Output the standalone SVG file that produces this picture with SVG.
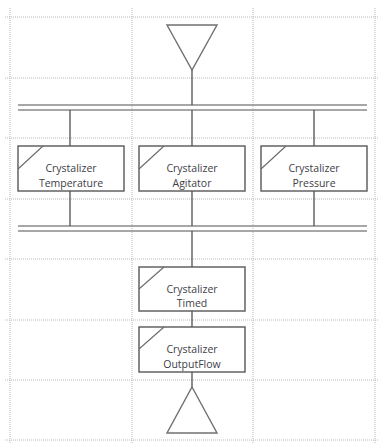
<svg xmlns="http://www.w3.org/2000/svg" width="378" height="444" viewBox="0 0 378 444">
<style>
.grid{stroke:#b8b8b8;stroke-width:1;stroke-dasharray:1,1;fill:none}
.bus{stroke:#8a8a8a;stroke-width:1.6;fill:none}
.conn{stroke:#505050;stroke-width:1.3;fill:none}
.box{fill:#fff;stroke:#585858;stroke-width:1.4}
.diag{stroke:#6a6a6a;stroke-width:1.1;fill:none}
.tri{fill:#fff;stroke:#707070;stroke-width:1.4}
.lbl{font-family:"Open Sans","Liberation Sans",sans-serif;font-size:10.5px;fill:#404048;text-anchor:middle}
</style>
<rect width="378" height="444" fill="#fff"/>
<g id="grid">
<path class="grid" d="M10,8V444M132,8V444M253,8V444M375,8V444"/>
<path class="grid" d="M5,17H378M5,78H378M5,138H378M5,199H378M5,259H378M5,320H378M5,380H378M5,440H378"/>
</g>
<g id="connectors">
<path class="bus" d="M18,105H367M18,110H367M18,226H367M18,231H367"/>
<path class="conn" d="M192,70V105M70,110V146M192,110V146M314,110V146M70,191V226M192,191V226M314,191V226M192,231V267M192,311V327M192,372V387"/>
</g>
<g id="start">
<polygon class="tri" points="167,25 217,25 192,70"/>
</g>
<g id="temperature">
<rect class="box" x="18" y="146" width="106" height="45"/>
<path class="diag" d="M18,169L43,146"/>
<text class="lbl" x="71" y="172">Crystalizer</text>
<text class="lbl" x="71" y="187">Temperature</text>
</g>
<g id="agitator">
<rect class="box" x="139" y="146" width="106" height="45"/>
<path class="diag" d="M139,169L164,146"/>
<text class="lbl" x="192" y="172">Crystalizer</text>
<text class="lbl" x="192" y="187">Agitator</text>
</g>
<g id="pressure">
<rect class="box" x="261" y="146" width="106" height="45"/>
<path class="diag" d="M261,169L286,146"/>
<text class="lbl" x="314" y="172">Crystalizer</text>
<text class="lbl" x="314" y="187">Pressure</text>
</g>
<g id="timed">
<rect class="box" x="139" y="267" width="106" height="44"/>
<path class="diag" d="M139,289L164,267"/>
<text class="lbl" x="192" y="293">Crystalizer</text>
<text class="lbl" x="192" y="307">Timed</text>
</g>
<g id="outputflow">
<rect class="box" x="139" y="327" width="106" height="45"/>
<path class="diag" d="M139,349L164,327"/>
<text class="lbl" x="192" y="353">Crystalizer</text>
<text class="lbl" x="192" y="368">OutputFlow</text>
</g>
<g id="end">
<polygon class="tri" points="192,387 217,433 167,433"/>
</g>
</svg>
